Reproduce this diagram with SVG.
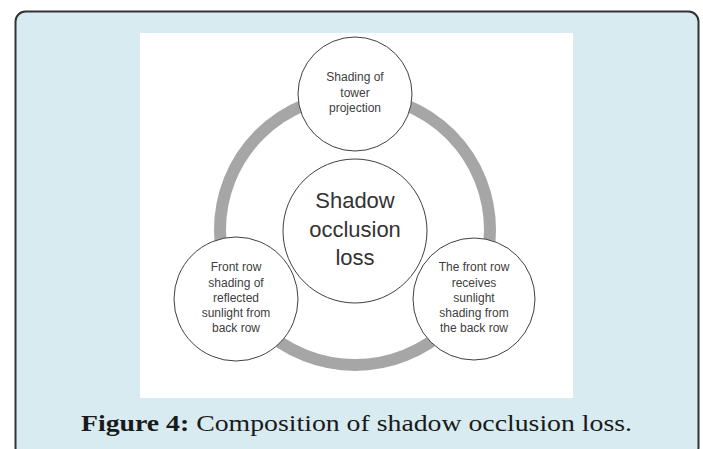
<svg xmlns="http://www.w3.org/2000/svg" width="703" height="449" viewBox="0 0 703 449">
<style>
.node{fill:#ffffff;stroke:#404040;stroke-width:1}
.t{font-family:"Liberation Sans",Arial,sans-serif;font-size:12px;fill:#404040;text-anchor:middle}
.big{font-family:"Liberation Sans",Arial,sans-serif;font-size:22px;fill:#333333;text-anchor:middle}
.cap{font-family:"Liberation Serif","Times New Roman",serif;font-size:24px;fill:#1a1a1a}
</style>
<rect x="15.5" y="11.5" width="683" height="446" rx="10" ry="10" fill="#d7ebf0" stroke="#333333" stroke-width="2"/>
<rect x="140" y="33" width="433" height="365" fill="#ffffff"/>
<g id="connectors">
<circle cx="355" cy="230" r="135" fill="none" stroke="#a6a6a6" stroke-width="12"/>
</g>
<g id="top">
<circle class="node" cx="355" cy="94" r="57"/>
<text class="t" x="355" y="81">Shading of</text>
<text class="t" x="355" y="97">tower</text>
<text class="t" x="355" y="112">projection</text>
</g>
<g id="center">
<circle class="node" cx="355" cy="231" r="72"/>
<text class="big" x="355" y="208">Shadow</text>
<text class="big" x="355" y="237">occlusion</text>
<text class="big" x="355" y="265">loss</text>
</g>
<g id="left">
<circle class="node" cx="236" cy="299" r="62"/>
<text class="t" x="236" y="271">Front row</text>
<text class="t" x="236" y="287">shading of</text>
<text class="t" x="236" y="302">reflected</text>
<text class="t" x="236" y="317">sunlight from</text>
<text class="t" x="236" y="332">back row</text>
</g>
<g id="right">
<circle class="node" cx="474" cy="299" r="61"/>
<text class="t" x="474" y="271">The front row</text>
<text class="t" x="474" y="287">receives</text>
<text class="t" x="474" y="302">sunlight</text>
<text class="t" x="474" y="317">shading from</text>
<text class="t" x="474" y="332">the back row</text>
</g>
<text class="cap" x="81" y="431" textLength="551" lengthAdjust="spacingAndGlyphs"><tspan font-weight="bold">Figure 4:</tspan> Composition of shadow occlusion loss.</text>
</svg>
